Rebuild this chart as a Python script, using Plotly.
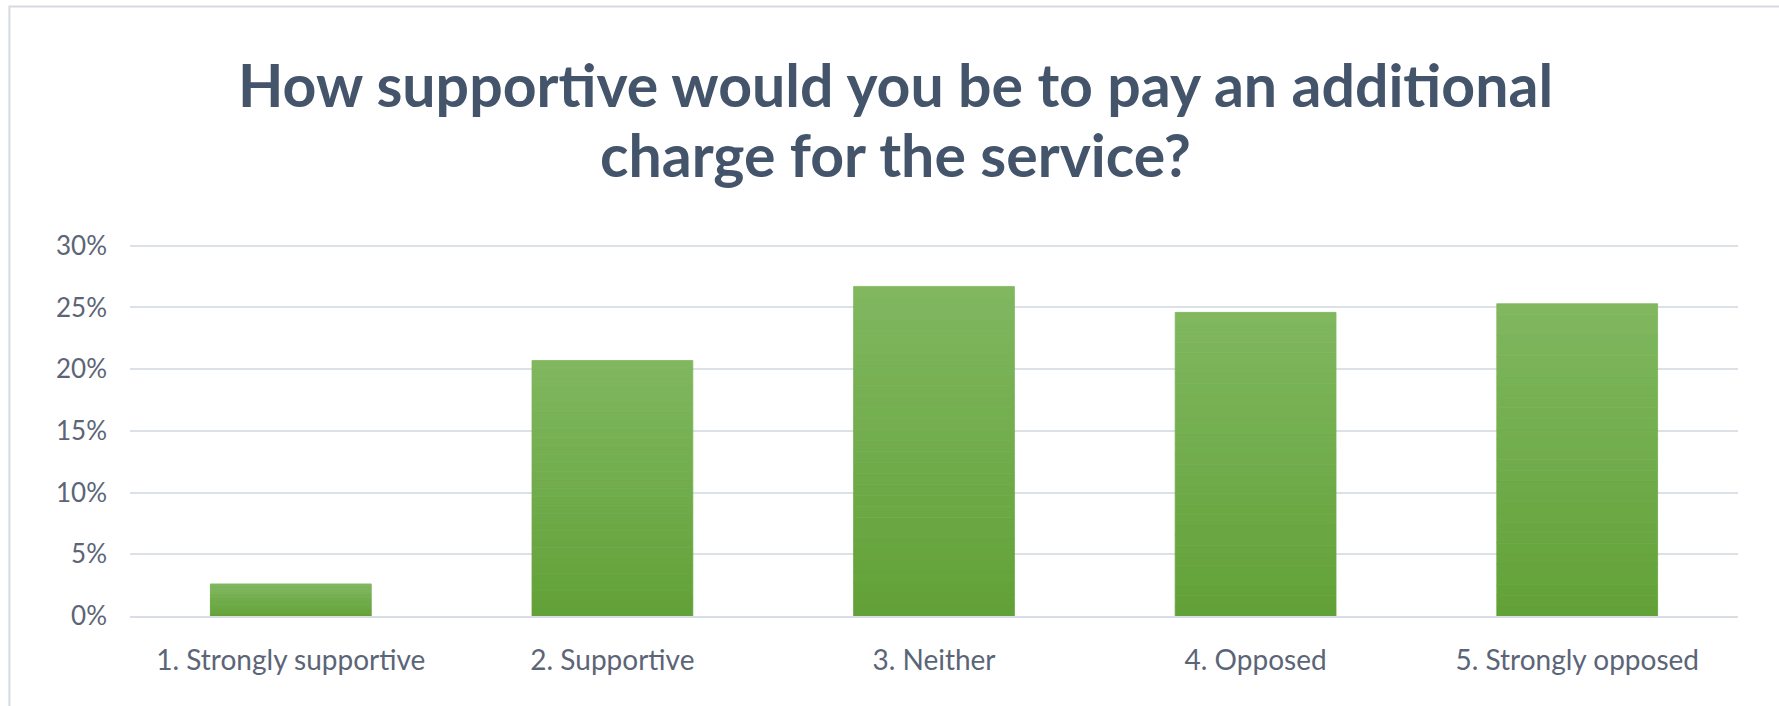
import plotly.graph_objects as go

categories = ["1. Strongly supportive", "2. Supportive", "3. Neither", "4. Opposed", "5. Strongly opposed"]
shares = [2.6, 20.7, 26.7, 24.6, 25.3]
y_ticks = [0, 5, 10, 15, 20, 25, 30]
y_tick_labels = ["0%", "5%", "10%", "15%", "20%", "25%", "30%"]

title_lines = ["How supportive would you be to pay an additional", "charge for the service?"]

# vertical gradient per bar: darker green at the base, lighter at the top
top_rgb = (128, 183, 96)
bottom_rgb = (98, 161, 55)
n_slices = 30


def blend(t):
    r = round(bottom_rgb[0] + (top_rgb[0] - bottom_rgb[0]) * t)
    g = round(bottom_rgb[1] + (top_rgb[1] - bottom_rgb[1]) * t)
    b = round(bottom_rgb[2] + (top_rgb[2] - bottom_rgb[2]) * t)
    return f"rgb({r},{g},{b})"


fig = go.Figure()
for i in range(n_slices):
    c = blend((i + 0.5) / n_slices)
    fig.add_trace(go.Bar(
        x=categories,
        y=[v / n_slices for v in shares],
        base=[v * i / n_slices for v in shares],
        marker=dict(color=c, line=dict(width=0.8, color=c)),
        width=0.5,
        showlegend=False,
        hoverinfo="skip",
    ))

title_font = dict(family="Lato", size=59, color="#44546A", weight="bold")
annotations = [
    dict(text=title_lines[0], xref="paper", yref="paper", x=0.476, y=1.42,
         xanchor="center", yanchor="middle", showarrow=False, font=title_font),
    dict(text=title_lines[1], xref="paper", yref="paper", x=0.476, y=1.233,
         xanchor="center", yanchor="middle", showarrow=False, font=title_font),
]

fig.update_layout(
    width=1779,
    height=706,
    barmode="overlay",
    paper_bgcolor="white",
    plot_bgcolor="white",
    margin=dict(l=130, r=41, t=242, b=90),
    font=dict(family="Lato", color="#5B6577"),
    annotations=annotations,
    xaxis=dict(
        showgrid=False,
        showline=True,
        linecolor="#D9DDE4",
        linewidth=2,
        ticks="",
        tickfont=dict(size=28, color="#5B6577"),
        ticklabelstandoff=18,
    ),
    yaxis=dict(
        range=[0, 30.3],
        tickvals=y_ticks,
        ticktext=y_tick_labels,
        showgrid=True,
        gridcolor="#DCE0E7",
        gridwidth=2,
        zeroline=False,
        showline=False,
        ticks="",
        tickfont=dict(size=26, color="#5B6577"),
        ticklabelstandoff=22,
    ),
    shapes=[dict(
        type="rect", xref="paper", yref="paper",
        x0=-0.075, x1=1.03, y0=-0.27, y1=1.63,
        line=dict(color="#D5D9E0", width=2),
        layer="below",
    )],
)

fig.write_html("out.html")
